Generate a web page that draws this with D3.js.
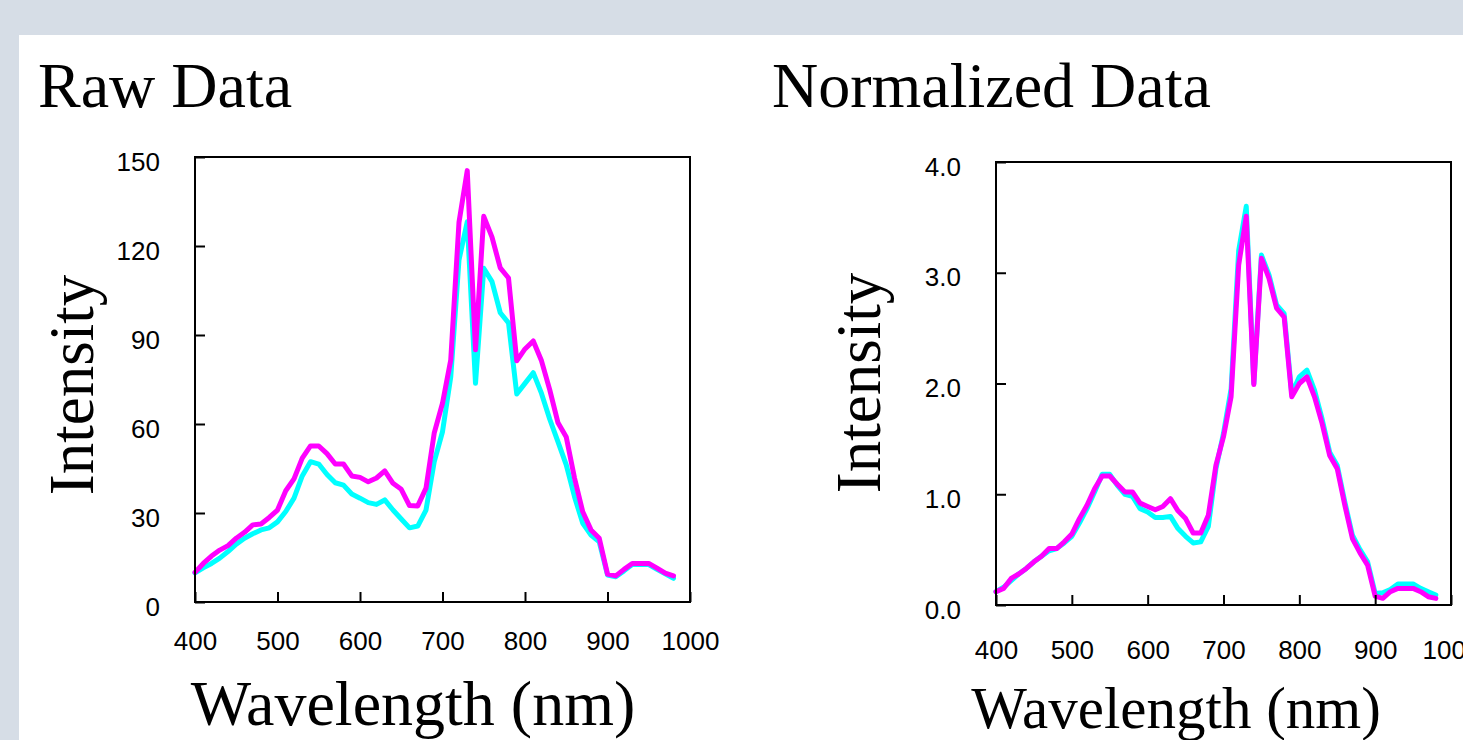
<!DOCTYPE html>
<html>
<head>
<meta charset="utf-8">
<script src="https://cdn.jsdelivr.net/npm/d3@7"></script>
<style>
html,body{margin:0;padding:0;background:#d6dde6;}
svg{display:block;}
</style>
</head>
<body>
<svg id="chart" width="1463" height="740"></svg>
<script>
// Wavelengths (nm)
const wavelengths = [400,410,420,430,440,450,460,470,480,490,500,510,520,530,540,550,560,570,580,590,600,610,620,630,640,650,660,670,680,690,700,710,720,730,740,750,760,770,780,790,800,810,820,830,840,850,860,870,880,890,900,910,920,930,940,950,960,970,980];

// Raw data
const rawCyan = [9.8,11.5,13,14.8,17,19.5,21.5,23,24.3,25,27,30.5,35,42.5,47.3,46.5,43,40.2,39.4,36.4,35,33.5,32.9,34.4,31,28,25,25.6,31,47.3,57.4,75.9,115.3,128.2,73.7,112.5,108,97.5,94.1,70.1,73.7,77.3,70.3,61.6,54,46.2,35.5,26.5,22.6,20.3,9.1,8.5,10.5,12.6,12.6,12.6,11,9.5,8];
const rawMagenta = [10,13,15.5,17.5,19,21.5,23.5,26,26.3,28.5,31,37.5,41.5,48.5,52.6,52.6,50,46.5,46.5,42.5,42,40.5,41.8,44.2,40,38,32.5,32.4,38.4,57,67,81.6,128,145.4,85,130,123,112.6,109.2,81.3,85.3,88,81.3,71.5,60.4,55.6,41.8,30.4,24.3,21.5,9.4,8.8,11,13,13,13,11.4,9.7,8.8];

// Normalized data
const normCyan = [0.12,0.16,0.22,0.28,0.33,0.39,0.44,0.49,0.51,0.56,0.62,0.74,0.87,1.02,1.18,1.18,1.08,1.0,0.98,0.87,0.84,0.79,0.79,0.80,0.69,0.62,0.56,0.57,0.71,1.23,1.55,1.95,3.2,3.6,2.0,3.16,2.98,2.71,2.63,1.91,2.06,2.12,1.94,1.68,1.38,1.26,0.93,0.63,0.50,0.39,0.105,0.11,0.14,0.19,0.19,0.19,0.15,0.12,0.09];
const normMagenta = [0.12,0.15,0.24,0.28,0.33,0.39,0.44,0.51,0.51,0.57,0.64,0.78,0.90,1.05,1.165,1.165,1.09,1.02,1.02,0.92,0.89,0.86,0.89,0.96,0.85,0.78,0.65,0.65,0.81,1.26,1.52,1.88,3.07,3.51,1.99,3.13,2.95,2.68,2.60,1.88,2.0,2.06,1.88,1.64,1.35,1.23,0.90,0.60,0.47,0.36,0.08,0.06,0.12,0.15,0.15,0.15,0.12,0.075,0.06];

// Tick labels
const xTicks = [400,500,600,700,800,900,1000];
const rawYTicks = [0,30,60,90,120,150];
const normYTicks = [0,1,2,3,4];

const titles = ["Raw Data","Normalized Data"];
const yTitle = "Intensity";
const xTitle = "Wavelength (nm)";

const svg = d3.select("#chart");
svg.append("rect").attr("x",19).attr("y",35).attr("width",1463-19).attr("height",740-35).attr("fill","#ffffff");

const serif = "'Liberation Serif','Times New Roman',serif";
const sans = "'Liberation Sans',Arial,sans-serif";

function drawChart(cfg){
  const x = d3.scaleLinear().domain([400,1000]).range([cfg.left,cfg.right]);
  const y = d3.scaleLinear().domain(cfg.yDomain).range([cfg.bottom,cfg.top]);
  const g = svg.append("g");

  // title
  g.append("text").attr("x",cfg.titleX).attr("y",107)
    .attr("font-family",serif).attr("font-size",64).attr("fill","#000").text(cfg.title);

  // lines
  const line = d3.line().x((d,i)=>x(wavelengths[i])).y(d=>y(d));
  g.append("path").datum(cfg.cyan).attr("d",line).attr("fill","none")
    .attr("stroke","#00ffff").attr("stroke-width",5).attr("stroke-linejoin","round").attr("stroke-linecap","round");
  g.append("path").datum(cfg.magenta).attr("d",line).attr("fill","none")
    .attr("stroke","#ff00ff").attr("stroke-width",5).attr("stroke-linejoin","round").attr("stroke-linecap","round");

  // frame
  g.append("rect").attr("x",cfg.left).attr("y",cfg.top)
    .attr("width",cfg.right-cfg.left).attr("height",cfg.bottom-cfg.top)
    .attr("fill","none").attr("stroke","#000").attr("stroke-width",2);

  // x axis
  const xa = g.append("g").attr("transform",`translate(0,${cfg.bottom})`)
    .call(d3.axisBottom(x).tickValues(xTicks).tickSize(-10).tickSizeOuter(0).tickPadding(cfg.xPad).tickFormat(d3.format("d")));
  xa.select(".domain").remove();
  xa.selectAll("line").attr("stroke","#000").attr("stroke-width",2);
  xa.selectAll("text").attr("font-family",sans).attr("font-size",26).attr("fill","#000");

  // y axis
  const ya = g.append("g").attr("transform",`translate(${cfg.left},0)`)
    .call(d3.axisLeft(y).tickValues(cfg.yTicks).tickSize(-10).tickSizeOuter(0).tickPadding(35).tickFormat(cfg.yFmt));
  ya.select(".domain").remove();
  ya.selectAll("line").attr("stroke","#000").attr("stroke-width",2);
  ya.selectAll("text").attr("font-family",sans).attr("font-size",26).attr("fill","#000").attr("dy","0.5em");

  // axis titles
  g.append("text").attr("transform",`translate(${cfg.yTitleX},${cfg.yTitleY}) rotate(-90)`)
    .attr("text-anchor","middle").attr("font-family",serif).attr("font-size",63).attr("fill","#000").text(yTitle);
  g.append("text").attr("x",cfg.xTitleX).attr("y",cfg.xTitleY)
    .attr("text-anchor","middle").attr("font-family",serif).attr("font-size",cfg.xTitleSize).attr("fill","#000").text(xTitle);
}

drawChart({
  title:titles[0], titleX:38,
  left:195,right:690,top:157,bottom:602,
  yDomain:[0,150], yTicks:rawYTicks, yFmt:d3.format("d"),
  cyan:rawCyan, magenta:rawMagenta,
  xPad:30,
  yTitleX:93,yTitleY:385,
  xTitleX:413,xTitleY:725,xTitleSize:64
});
drawChart({
  title:titles[1], titleX:772,
  left:996,right:1451,top:162,bottom:605,
  yDomain:[0,4], yTicks:normYTicks, yFmt:d3.format(".1f"),
  cyan:normCyan, magenta:normMagenta,
  xPad:36,
  yTitleX:880,yTitleY:383,
  xTitleX:1176,xTitleY:728,xTitleSize:59
});
</script>
</body>
</html>
